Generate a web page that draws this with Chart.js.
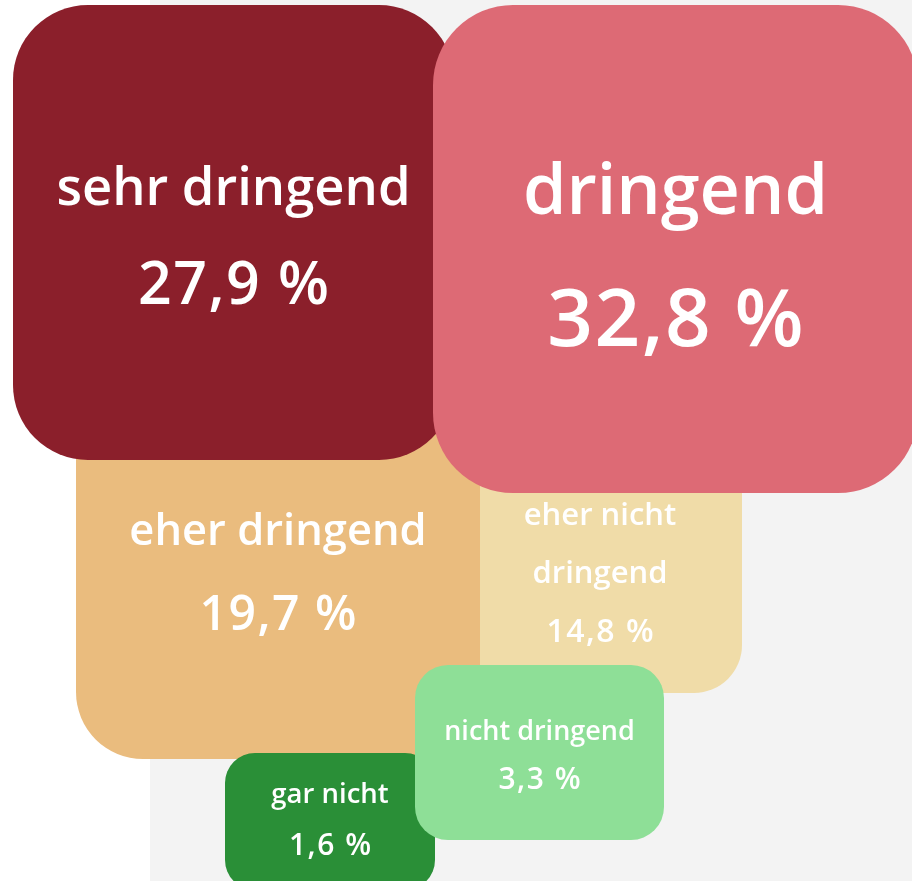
<!DOCTYPE html>
<html lang="de">
<head>
<meta charset="utf-8">
<title>Dringlichkeit</title>
<script src="https://cdn.jsdelivr.net/npm/chart.js@4.4.1/dist/chart.umd.min.js"></script>
<style>
  html, body { margin: 0; padding: 0; background: #ffffff; }
  #wrap {
    position: relative; width: 912px; height: 881px;
    background: linear-gradient(to right, #ffffff 0px, #ffffff 150px, #f3f3f3 150px, #f3f3f3 100%);
  }
</style>
</head>
<body>
<div id="wrap"><canvas id="c"></canvas></div>
<script>
// ---- data ----
const categories = ['sehr dringend', 'dringend', 'eher dringend', 'eher nicht dringend', 'nicht dringend', 'gar nicht'];
const values = [27.9, 32.8, 19.7, 14.8, 3.3, 1.6];
// how each category label is broken into lines
const labelLines = [['sehr dringend'], ['dringend'], ['eher dringend'], ['eher nicht', 'dringend'], ['nicht dringend'], ['gar nicht']];

// ---- layout (axis units, not data) ----
const boxLeft   = [13, 433, 76, 458, 415, 225];
const boxRight  = [454, 918, 480, 742, 664, 435];
const boxTop    = [5, 5, 356, 409, 665, 753];
const boxBottom = [460, 493, 759, 693, 840, 890];
const cornerRadius = [75, 80, 67, 48, 33, 30];
const stackOrder = [1, 0, 4, 5, 2, 3];   // lower = drawn on top

// ---- style ----
const colors = ['#8b1f2b', '#dd6a75', '#eabc7e', '#f0dca8', '#8edf97', '#2a8f37'];
const labelFont = [52.5, 70, 43.5, 31, 27, 27.5];
const valueFont = [59, 80, 48, 32, 30, 30];
const labelBase = [205, 214, 545, 525, 740, 803];   // first line baseline
const lineGap   = [0, 0, 0, 58, 0, 0];
const valueBase = [304, 346, 630, 642, 789, 855];

function fmt(v) { return v.toLocaleString('de-DE', { minimumFractionDigits: 1, maximumFractionDigits: 1 }) + ' %'; }

const datasets = categories.map((cat, i) => ({
  label: cat,
  data: [{ x: (boxLeft[i] + boxRight[i]) / 2, y: [boxTop[i], boxBottom[i]] }],
  backgroundColor: colors[i],
  borderWidth: 0,
  borderSkipped: false,
  borderRadius: cornerRadius[i],
  barThickness: boxRight[i] - boxLeft[i],
  inflateAmount: 0,
  grouped: false,
  order: stackOrder[i]
}));

const textPlugin = {
  id: 'boxText',
  afterDatasetsDraw(chart) {
    const ctx = chart.ctx;
    const ys = chart.scales.y;
    ctx.save();
    ctx.fillStyle = '#ffffff';
    ctx.textAlign = 'center';
    ctx.textBaseline = 'alphabetic';
    chart.data.datasets.forEach((ds, i) => {
      const el = chart.getDatasetMeta(i).data[0];
      const cx = el.x;
      ctx.letterSpacing = '0px';
      ctx.font = '600 ' + labelFont[i] + 'px "Open Sans", sans-serif';
      labelLines[i].forEach((line, k) => {
        ctx.fillText(line, cx, ys.getPixelForValue(labelBase[i] + k * lineGap[i]));
      });
      ctx.letterSpacing = '1.5px';
      ctx.font = '600 ' + valueFont[i] + 'px "Open Sans", sans-serif';
      ctx.fillText(fmt(values[i]), cx + 0.75, ys.getPixelForValue(valueBase[i]));
    });
    ctx.restore();
  }
};

new Chart(document.getElementById('c'), {
  type: 'bar',
  data: { datasets },
  options: {
    responsive: true,
    maintainAspectRatio: false,
    animation: false,
    layout: { padding: 0 },
    plugins: { legend: { display: false }, tooltip: { enabled: false } },
    scales: {
      x: { type: 'linear', min: 0, max: 912, offset: false, display: false },
      y: { type: 'linear', min: 0, max: 881, reverse: true, offset: false, display: false }
    }
  },
  plugins: [textPlugin]
});
</script>
</body>
</html>
